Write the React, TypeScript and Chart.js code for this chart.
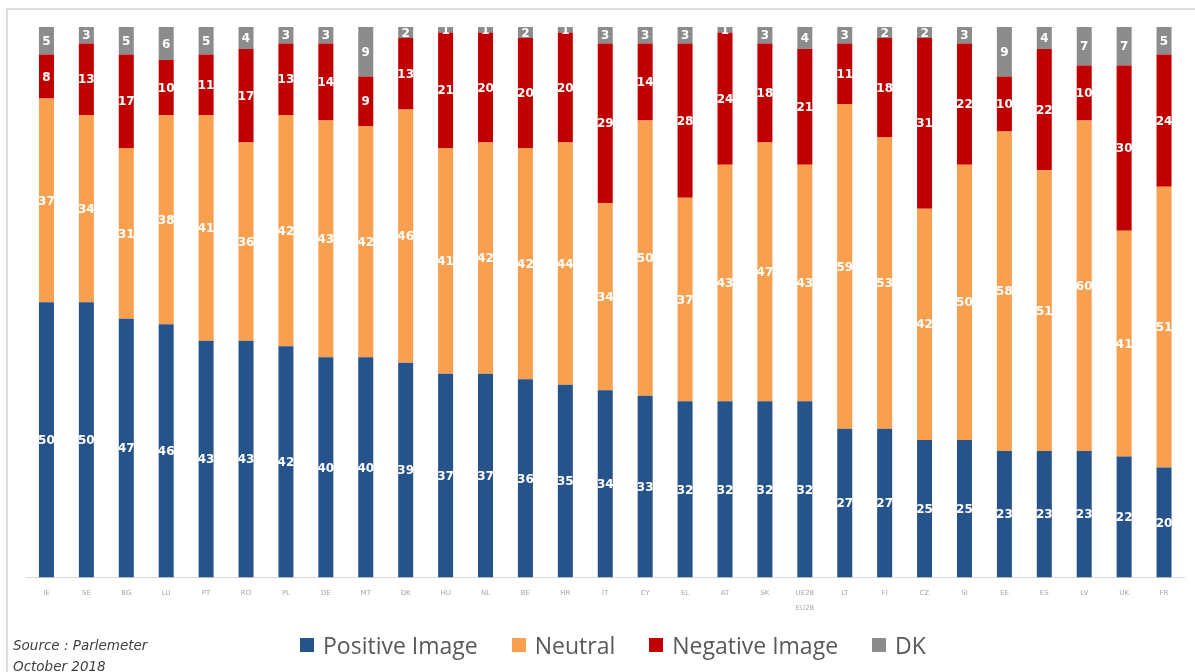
import React, { useEffect, useRef } from "react";
import { Chart, registerables } from "chart.js";

Chart.register(...registerables);

const categories: (string | string[])[] = [
  "IE", "SE", "BG", "LU", "PT", "RO", "PL", "DE", "MT", "DK", "HU", "NL", "BE", "HR", "IT",
  "CY", "EL", "AT", "SK", ["UE28", "EU28"], "LT", "FI", "CZ", "SI", "EE", "ES", "LV", "UK", "FR",
];
const positiveImage = [50, 50, 47, 46, 43, 43, 42, 40, 40, 39, 37, 37, 36, 35, 34, 33, 32, 32, 32, 32, 27, 27, 25, 25, 23, 23, 23, 22, 20];
const neutral = [37, 34, 31, 38, 41, 36, 42, 43, 42, 46, 41, 42, 42, 44, 34, 50, 37, 43, 47, 43, 59, 53, 42, 50, 58, 51, 60, 41, 51];
const negativeImage = [8, 13, 17, 10, 11, 17, 13, 14, 9, 13, 21, 20, 20, 20, 29, 14, 28, 24, 18, 21, 11, 18, 31, 22, 10, 22, 10, 30, 24];
const dk = [5, 3, 5, 6, 5, 4, 3, 3, 9, 2, 1, 1, 2, 1, 3, 3, 3, 1, 3, 4, 3, 2, 2, 3, 9, 4, 7, 7, 5];

const seriesNames = ["Positive Image", "Neutral", "Negative Image", "DK"];
const seriesValues = [positiveImage, neutral, negativeImage, dk];
const seriesColors = ["#26538A", "#F8A050", "#C00000", "#8C8C8C"];

const segmentLabels = {
  id: "segmentLabels",
  afterDatasetsDraw(chart: any) {
    const ctx = chart.ctx;
    ctx.save();
    ctx.fillStyle = "#ffffff";
    ctx.font = "bold 12px 'DejaVu Sans'";
    ctx.textAlign = "center";
    ctx.textBaseline = "middle";
    chart.data.datasets.forEach((ds: any, di: number) => {
      const meta = chart.getDatasetMeta(di);
      if (meta.hidden) return;
      meta.data.forEach((el: any, i: number) => {
        const v = ds.data[i];
        const p = el.getProps(["x", "y", "base"], true);
        ctx.fillText(String(v), p.x, (p.y + p.base) / 2 + 1);
      });
    });
    ctx.restore();
  },
};

export default function App() {
  const canvasRef = useRef<HTMLCanvasElement | null>(null);

  useEffect(() => {
    if (!canvasRef.current) return;
    const chart = new Chart(canvasRef.current, {
      type: "bar",
      data: {
        labels: categories as any,
        datasets: seriesNames.map((name, i) => ({
          label: name,
          data: seriesValues[i],
          backgroundColor: seriesColors[i],
          borderWidth: 0,
          categoryPercentage: 1,
          barPercentage: 0.376,
        })),
      },
      options: {
        responsive: false,
        animation: false,
        layout: { padding: { left: 26.5, right: 11, top: 27, bottom: 47.5 } },
        plugins: {
          tooltip: { enabled: false },
          legend: { display: false },
        },
        scales: {
          x: {
            stacked: true,
            grid: { display: false, drawTicks: false },
            border: { display: true, color: "#d9d9d9", width: 1 },
            ticks: {
              color: "#a6a6a6",
              font: { family: "'DejaVu Sans'", size: 7, lineHeight: 15 / 7 },
              padding: 8.5,
              maxRotation: 0,
              autoSkip: false,
            },
          },
          y: { stacked: true, display: false, min: 0, max: 100 },
        },
      },
      plugins: [segmentLabels],
    } as any);
    return () => chart.destroy();
  }, []);

  return (
    <div
      style={{
        position: "absolute",
        left: 0,
        top: 0,
        width: 1195,
        height: 672,
        overflow: "hidden",
        background: "#ffffff",
      }}
    >
      <div
        style={{
          position: "absolute",
          left: 6,
          top: 8,
          width: 1300,
          height: 800,
          borderLeft: "2px solid #dcdcdc",
          borderTop: "2px solid #dcdcdc",
        }}
      />
      <canvas ref={canvasRef} width={1195} height={672} style={{ position: "absolute", left: 0, top: 0 }} />
      <div
        style={{
          position: "absolute",
          left: 300,
          top: 630,
          height: 30,
          display: "flex",
          alignItems: "center",
          fontFamily: "'Open Sans'",
          fontSize: 23,
          lineHeight: "30px",
          color: "#595959",
          whiteSpace: "nowrap",
        }}
      >
        {seriesNames.map((name, i) => (
          <div key={name} style={{ display: "flex", alignItems: "center", marginRight: i < seriesNames.length - 1 ? 34 : 0 }}>
            <span style={{ display: "inline-block", width: 14, height: 14, background: seriesColors[i], marginRight: 9 }} />
            <span>{name}</span>
          </div>
        ))}
      </div>
      <div
        style={{
          position: "absolute",
          left: 13,
          top: 635,
          fontFamily: "'DejaVu Sans'",
          fontStyle: "italic",
          fontSize: 13.5,
          lineHeight: "21px",
          color: "#404040",
          whiteSpace: "nowrap",
        }}
      >
        <div>Source : Parlemeter</div>
        <div>October 2018</div>
      </div>
    </div>
  );
}
